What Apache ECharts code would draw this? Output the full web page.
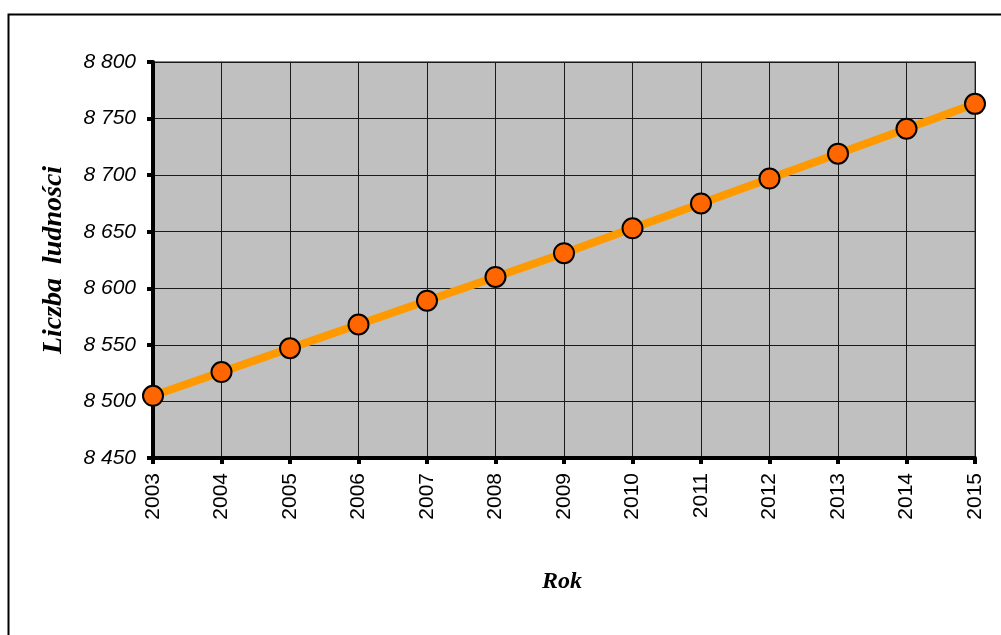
<!DOCTYPE html>
<html>
<head>
<meta charset="utf-8">
<script src="https://cdn.jsdelivr.net/npm/echarts@6/dist/echarts.min.js"></script>
<style>html,body{margin:0;padding:0;background:#fff}#c{width:1001px;height:635px}</style>
</head>
<body>
<div id="c"></div>
<script>
const years = ['2003','2004','2005','2006','2007','2008','2009','2010','2011','2012','2013','2014','2015'];
const population = [8505, 8526, 8547, 8568, 8589, 8610, 8631, 8653, 8675, 8697, 8719, 8741, 8763];
const yMin = 8450, yMax = 8800, yStep = 50;
const yTitle = 'Liczba  ludności';
const xTitle = 'Rok';

const chart = echarts.init(document.getElementById('c'), null, {renderer: 'canvas'});
chart.setOption({
  backgroundColor: '#fff',
  animation: false,
  graphic: [{
    type: 'rect', z: -10,
    shape: {x: 8.5, y: 14.5, width: 1020, height: 660},
    style: {fill: 'none', stroke: '#000', lineWidth: 2}
  }, {
    type: 'text', x: 562, y: 582,
    style: {text: xTitle, align: 'center', verticalAlign: 'middle',
      font: 'italic bold 24px "Liberation Serif", "Times New Roman", serif', fill: '#000'}
  }, {
    type: 'text', rotation: Math.PI / 2, x: 54, y: 260,
    style: {text: yTitle, align: 'center', verticalAlign: 'middle',
      font: 'italic bold 28px "Liberation Serif", "Times New Roman", serif', fill: '#000'}
  }],
  grid: {
    left: 153, right: 26, top: 62, bottom: 177,
    show: true, backgroundColor: '#c0c0c0', borderColor: '#808080', borderWidth: 2
  },
  xAxis: {
    type: 'category', data: years, boundaryGap: false,
    axisLine: {lineStyle: {color: '#000', width: 4}},
    axisTick: {show: true, alignWithLabel: true, length: 6, lineStyle: {color: '#000', width: 4}},
    axisLabel: {rotate: 90, margin: 15, color: '#000', fontFamily: 'Liberation Sans, Arial, sans-serif', fontSize: 21},
    splitLine: {show: true, lineStyle: {color: '#1a1a1a', width: 1}}
  },
  yAxis: {
    type: 'value', min: yMin, max: yMax, interval: yStep,
    axisLine: {show: true, lineStyle: {color: '#000', width: 4}},
    axisTick: {show: true, length: 6, lineStyle: {color: '#000', width: 4}},
    axisLabel: {
      margin: 17, color: '#000', fontStyle: 'italic',
      fontFamily: 'Liberation Sans, Arial, sans-serif', fontSize: 21,
      formatter: v => String(v).replace(/\B(?=(\d{3})+(?!\d))/g, ' ')
    },
    splitLine: {show: true, lineStyle: {color: '#1a1a1a', width: 1}}
  },
  series: [{
    type: 'line', data: population,
    lineStyle: {color: '#ff9900', width: 8},
    symbol: 'circle', symbolSize: 20,
    itemStyle: {color: '#ff6600', borderColor: '#000', borderWidth: 2},
    clip: false, z: 5
  }]
});
</script>
</body>
</html>
